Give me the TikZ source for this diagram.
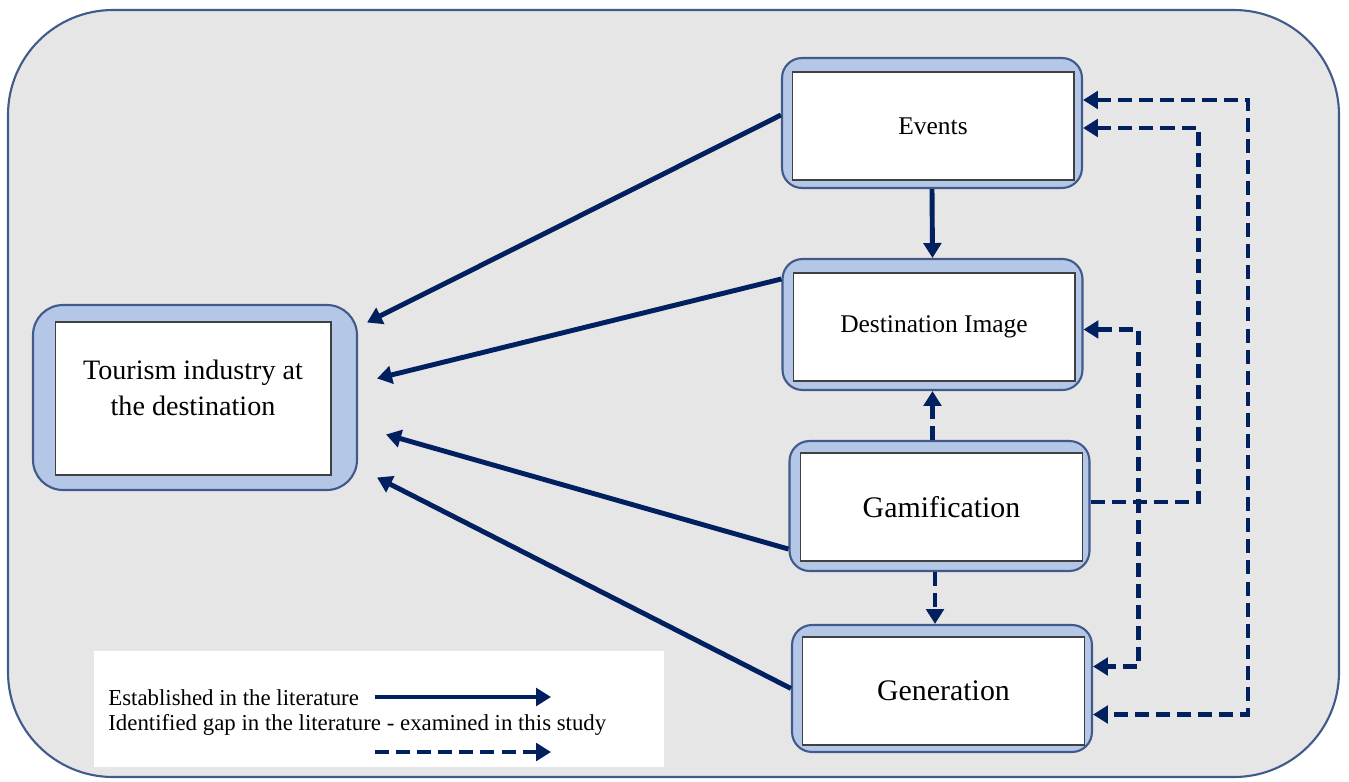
\documentclass[tikz,border=0pt]{standalone}
\usepackage{fontspec}
\setmainfont{Liberation Serif}
\usepackage{xcolor}
\usetikzlibrary{arrows.meta,calc,positioning}

\definecolor{navy}{HTML}{002060}
\definecolor{framefill}{HTML}{B4C7E7}
\definecolor{frameline}{HTML}{41598B}
\definecolor{panel}{HTML}{E7E6E6}

\begin{document}
\begin{tikzpicture}[x=0.02cm, y=-0.02cm,
    frame/.style={draw=frameline, line width=1.2pt, rounded corners=0.4cm, fill=framefill, minimum width=6cm, minimum height=2.6cm},
    box/.style={draw=black!75, line width=0.6pt, fill=white, minimum width=5.64cm, minimum height=2.16cm, align=center},
    arrow/.style={-{Triangle[length=8.5pt,width=10pt]}, line width=2.8pt, draw=navy},
    gap/.style={arrow, dash pattern=on 8pt off 4pt},
    twoway/.style={gap, {Triangle[length=8.5pt,width=10pt]}-{Triangle[length=8.5pt,width=10pt]}}
]

\useasboundingbox (0,0) rectangle (1349,781);
\draw[draw=frameline, line width=1.2pt, fill=panel, rounded corners=2.1cm] (8,10) rectangle (1339,777);

\node[frame] (events) at (932,123) {};
\node[box, font=\fontsize{14.5}{17}\selectfont] (events-in) at (933,126) {Events};
\node[frame, minimum height=2.62cm] (image) at (932.5,324.5) {};
\node[box, font=\fontsize{14.5}{17}\selectfont] (image-in) at (934,327) {Destination Image};
\node[frame] (gamif) at (939.5,506) {};
\node[box, font=\fontsize{17}{20}\selectfont] (gamif-in) at (941.5,507) {Gamification};
\node[frame, minimum height=2.54cm] (gen) at (942,688.5) {};
\node[box, font=\fontsize{17}{20}\selectfont] (gen-in) at (943.5,691) {Generation};
\node[frame, rounded corners=0.6cm, minimum width=6.48cm, minimum height=3.7cm] (tourism) at (195,397.5) {};
\node[box, font=\fontsize{16}{20.5}\selectfont, minimum width=5.52cm, minimum height=3.06cm] (tourism-in) at (193,398.5) {Tourism industry at\\the destination\\[-8pt]};

\draw[arrow] ($(events.west)+(0,-8)$) -- ($(tourism.east)+(9,-75)$);
\draw[arrow] ($(image.north west)+(0,21)$) -- ($(tourism.east)+(19,-19)$);
\draw[arrow] ($(gamif.south west)+(0,-23)$) -- ($(tourism.east)+(28,37)$);
\draw[arrow] (gen.west) -- ($(tourism.east)+(19,80)$);
\draw[arrow] (events.south) -- (image.north);

\draw[gap] (gamif.north -| image.south) -- (image.south);
\draw[gap] (gamif.south -| 935,0) -- (gen.north -| 935,0);
\draw[gap] ($(gamif.east)+(0,-4)$) -- ++(108,0) |- ($(events.east)+(0,5)$);
\draw[twoway] ($(image.east)+(0,5)$) -- ++(55,0) |- ($(gen.east)+(0,-22)$);
\draw[twoway] ($(events.east)+(0,-23)$) -- ++(165,0) |- ($(gen.east)+(0,26)$);

\node[fill=white, minimum width=11.4cm, minimum height=2.32cm] (legend) at (379,709) {};
\node[anchor=base west, inner sep=0pt, font=\fontsize{13}{15}\selectfont] (known) at (108,705) {Established in the literature};
\node[anchor=base west, inner sep=0pt, font=\fontsize{13}{15}\selectfont] (unknown) at (108,730) {Identified gap in the literature - examined in this study};
\coordinate (known-a) at (375,697);
\coordinate (known-b) at (551,697);
\coordinate (unknown-a) at (375,752);
\coordinate (unknown-b) at (551,752);
\draw[arrow] (known-a) -- (known-b);
\draw[gap] (unknown-a) -- (unknown-b);

\end{tikzpicture}
\end{document}
